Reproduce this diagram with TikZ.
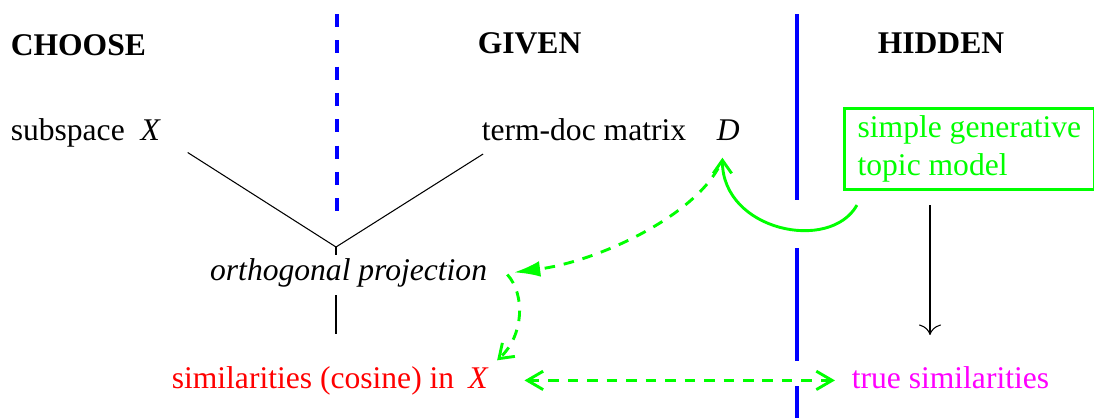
\documentclass[tikz,border=0pt]{standalone}
\usepackage{fontspec}
\setmainfont{Liberation Serif}
\usetikzlibrary{positioning, arrows.meta, calc}
\definecolor{TopicGreen}{RGB}{0,255,0}
\definecolor{PureBlue}{RGB}{0,0,255}
\definecolor{PureMagenta}{RGB}{255,0,255}
\tikzset{
  txt/.style={font=\fontsize{12}{14.4}\selectfont, anchor=base west, inner sep=2pt},
  heading/.style={txt, font=\fontsize{12}{14.4}\selectfont\bfseries},
  greenflow/.style={TopicGreen, line width=1.1pt, dash pattern=on 4pt off 3.4pt},
  divider/.style={PureBlue, line width=1.5pt}
}
\begin{document}
\begin{tikzpicture}[x=0.38pt, y=-0.38pt]
  \useasboundingbox (0,0) rectangle (1094,418);

  % Separadores
  \draw[divider, dash pattern=on 5pt off 5pt] (337,14) -- (337,214);
  \draw[divider] (797,14) -- (797,200) (797,248) -- (797,361) (797,386) -- (797,418);

  % Encabezados
  \node[heading] (choose) at (5,55) {CHOOSE};
  \node[heading] (given) at (472,53) {GIVEN};
  \node[heading] (hidden) at (872,53) {HIDDEN};

  % Nodos
  \node[txt] (subsp) at (5,140) {subspace\hspace{0.5em}\textit{X}};
  \node[txt] (term) at (476,140) {term-doc matrix};
  \node[txt] (D) at (711,140) {\textit{D}};
  \node[txt, TopicGreen, draw, line width=1.1pt, align=left, anchor=north west,
        inner xsep=5pt, inner ysep=2.8pt] (model) at (843,107) {simple generative\\topic model};
  \node[txt, font=\fontsize{12}{14.4}\selectfont\itshape, inner sep=1pt] (proj) at (207,280) {orthogonal projection};
  \node[txt, red] (sim) at (166,388) {similarities (cosine) in\hspace{0.45em}\textit{X}};
  \node[txt, PureMagenta] (truesim) at (846,388) {true similarities};

  % Conexiones
  \coordinate (join) at (336,247);
  \coordinate (stem) at (336,334);
  \coordinate (drop) at (930,335);
  \draw ([xshift=8pt]subsp.south east) -- (join);
  \draw ([xshift=2.7pt, yshift=-3pt]term.south west) -- (join);
  \draw (join) -- (join |- proj.north);
  \draw[shorten <=2pt] (proj.south -| join) -- (stem);
  \draw[-{To[length=4pt]}, shorten <=5.3pt] (model.south -| drop) -- (drop);

  \draw[TopicGreen, line width=1.1pt, -{Straight Barb[length=5pt,width=7pt]}]
    ([xshift=5.3pt, yshift=-5.3pt]model.south west) .. controls +(-27,48) and +(0,73) .. ([xshift=-2.2pt, yshift=-4.5pt]D.south);
  \draw[greenflow, -{Latex[length=10pt,width=6pt]}]
    ([xshift=-3.8pt, yshift=-8.5pt]D.south) .. controls +(-28,50) and +(83,-11) .. ([xshift=9pt]proj.east);
  \draw[greenflow, -{Straight Barb[length=5pt,width=7pt]}]
    ([xshift=6.5pt, yshift=-0.8pt]proj.east) .. controls +(18,20) and +(27,-25) .. ([xshift=1pt]sim.north east);
  \draw[greenflow, {Straight Barb[length=6pt,width=7pt]}-{Straight Barb[length=6pt,width=7pt]},
        shorten <=11.4pt, shorten >=4.2pt] (sim.east) -- (sim.east -| truesim.west);
\end{tikzpicture}
\end{document}
